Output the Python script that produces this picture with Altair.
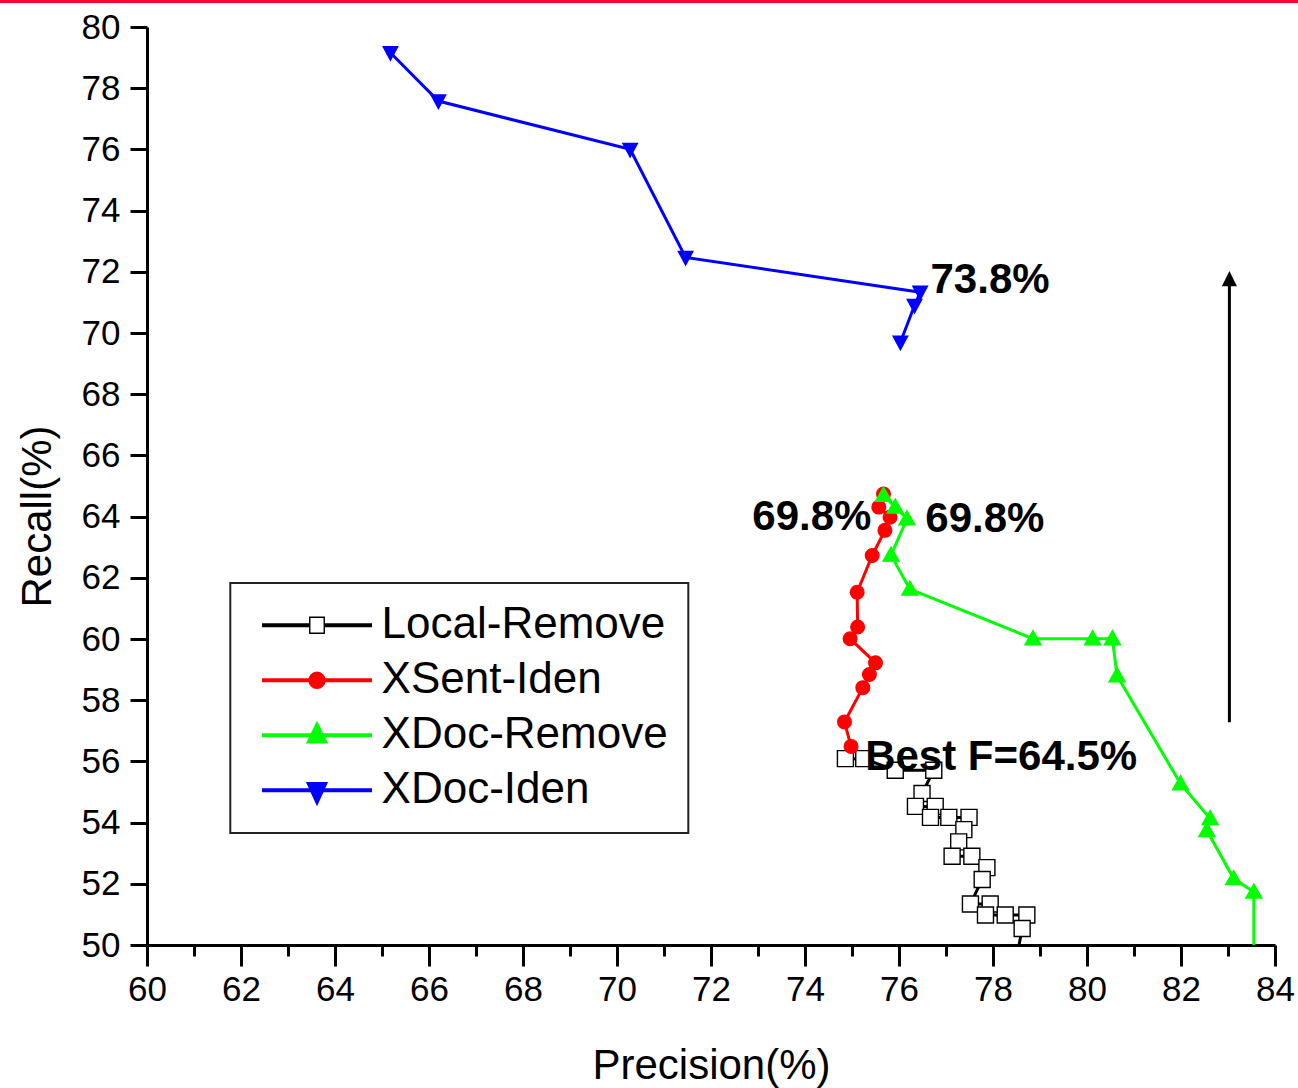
import altair as alt
import pandas as pd

# ---------------- data ----------------
series_names = ["Local-Remove", "XSent-Iden", "XDoc-Remove", "XDoc-Iden"]

local_x = [74.86, 75.25, 75.92, 76.74, 76.49, 76.35, 76.77, 76.67, 77.06, 77.49, 77.38,
           77.27, 77.13, 77.55, 77.87, 77.77, 77.52, 77.94, 77.84, 78.26, 78.72, 78.62, 78.47]
local_y = [56.09, 56.09, 55.71, 55.71, 54.95, 54.53, 54.53, 54.17, 54.17, 54.17, 53.77,
           53.37, 52.90, 52.90, 52.53, 52.14, 51.34, 51.34, 50.98, 50.98, 50.98, 50.54, 49.30]

xsent_x = [75.67, 75.57, 75.81, 75.70, 75.43, 75.11, 75.12, 74.96, 75.50, 75.37, 75.23, 74.84, 74.98]
xsent_y = [64.74, 64.31, 63.98, 63.55, 62.73, 61.53, 60.39, 60.01, 59.22, 58.84, 58.41, 57.29, 56.49]

xdocr_x = [75.67, 75.92, 76.17, 75.83, 76.23, 78.85, 80.12, 80.54, 80.64, 81.99, 82.62,
           82.55, 83.12, 83.55, 83.55]
xdocr_y = [64.70, 64.31, 63.93, 62.74, 61.63, 60.01, 60.01, 60.01, 58.80, 55.27, 54.13,
           53.74, 52.17, 51.73, 48.50]

xdoci_x = [65.18, 66.20, 70.28, 71.46, 76.45, 76.33, 76.03]
xdoci_y = [79.16, 77.58, 76.00, 72.47, 71.33, 70.90, 69.70]

ann_text = ["73.8%", "69.8%", "69.8%", "Best F=64.5%"]
ann_x = [76.67, 72.88, 76.56, 75.28]
ann_y = [71.72, 63.98, 63.93, 56.14]

arrow_x = [83.03]
arrow_y_start = [57.28]
arrow_y_end = [71.60]
arrow_tip_y = [72.03]

x_ticks = list(range(60, 85))
y_ticks = list(range(50, 81))

# ---------------- styles ----------------
line_colors = ["#000000", "#ff0000", "#00ff00", "#0000ff"]
marker_fills = ["#ffffff", "#ff0000", "#00ff00", "#0000ff"]
FONT = "Liberation Sans"

plot_marker_paths = [
    "M-1.6,-1.6H1.6V1.6H-1.6Z",
    "M-1.36,0A1.36,1.36,0,1,0,1.36,0A1.36,1.36,0,1,0,-1.36,0Z",
    "M0,-1.6L1.6,1.2L-1.6,1.2Z",
    "M0,1.5L1.45,-1.2L-1.45,-1.2Z",
]
legend_marker_paths = [
    "M-1.45,-1.6H1.45V1.6H-1.45Z",
    "M-1.6,0A1.6,1.6,0,1,0,1.6,0A1.6,1.6,0,1,0,-1.6,0Z",
    "M0,-2.6L2,1.5L-2,1.5Z",
    "M0,2.86L2,-1.5L-2,-1.5Z",
]
legend_line_path = "M-11,0H11"
arrow_head_path = "M0,0L1.5,3.06L-1.5,3.06Z"

rows = []
for name, xs, ys in zip(series_names,
                        [local_x, xsent_x, xdocr_x, xdoci_x],
                        [local_y, xsent_y, xdocr_y, xdoci_y]):
    for i, (xv, yv) in enumerate(zip(xs, ys)):
        rows.append({"series": name, "idx": i, "precision": xv, "recall": yv})
df = pd.DataFrame(rows)

ann_df = pd.DataFrame({"text": ann_text, "x": ann_x, "y": ann_y})
arrow_df = pd.DataFrame({"x": arrow_x, "y": arrow_y_start, "y2": arrow_y_end, "tip": arrow_tip_y})
legend_df = pd.DataFrame({"series": series_names})

xscale = alt.Scale(domain=[60, 84], nice=False, zero=False)
yscale = alt.Scale(domain=[50, 80], nice=False, zero=False)

x_axis = alt.Axis(
    values=x_ticks,
    labelExpr="datum.value % 2 == 0 ? datum.label : ''",
    tickSize={"condition": {"test": "datum.value % 2 == 0", "value": 21}, "value": 11},
    labelPadding=6,
    labelFlush=False,
    labelAlign="center",
    title="Precision(%)",
    titleX=564, titleY=120, titleBaseline="middle",
)
y_axis = alt.Axis(
    values=y_ticks,
    labelExpr="datum.value % 2 == 0 ? datum.label : ''",
    tickSize={"condition": {"test": "datum.value % 2 == 0", "value": 17}, "value": 9},
    labelPadding=10,
    labelFlush=False,
    title="Recall(%)",
    titleX=-110, titleY=489, titleAngle=270, titleAlign="center", titleBaseline="middle",
)

X = alt.X("precision:Q", scale=xscale, axis=x_axis)
Y = alt.Y("recall:Q", scale=yscale, axis=y_axis)

top_bar = alt.Chart(pd.DataFrame({"a": [0]})).mark_rule(color="#ff0030", strokeWidth=3).encode(
    x=alt.value(-147), x2=alt.value(1151), y=alt.value(-25.5)
)

lines = alt.Chart(df).mark_line(clip=True, strokeWidth=3).encode(
    x=X, y=Y,
    stroke=alt.Stroke("series:N", scale=alt.Scale(domain=series_names, range=line_colors), legend=None),
    order=alt.Order("idx:Q"),
)

points = alt.Chart(df).mark_point(clip=True, filled=True, size=100, strokeWidth=1.4, opacity=1).encode(
    x=X, y=Y,
    shape=alt.Shape("series:N", scale=alt.Scale(domain=series_names, range=plot_marker_paths), legend=None),
    fill=alt.Fill("series:N", scale=alt.Scale(domain=series_names, range=marker_fills), legend=None),
    stroke=alt.Stroke("series:N", scale=alt.Scale(domain=series_names, range=line_colors), legend=None),
)

arrow_line = alt.Chart(arrow_df).mark_rule(color="black", strokeWidth=3).encode(
    x=alt.X("x:Q", scale=xscale), y=alt.Y("y:Q", scale=yscale), y2="y2:Q"
)
arrow_head = alt.Chart(arrow_df).mark_point(filled=True, color="black", size=100, opacity=1,
                                            shape=arrow_head_path).encode(
    x=alt.X("x:Q", scale=xscale), y=alt.Y("tip:Q", scale=yscale)
)

texts = alt.Chart(ann_df).mark_text(font=FONT, fontSize=42, fontWeight="bold", align="left",
                                    baseline="middle", color="black").encode(
    x=alt.X("x:Q", scale=xscale), y=alt.Y("y:Q", scale=yscale), text="text:N"
)

common_legend = dict(
    orient="none", legendX=83.3, legendY=556, title=None,
    padding=20.3, rowPadding=11, symbolOffset=44.4, labelOffset=42.6,
    labelFont=FONT, labelFontSize=44, labelLimit=0, symbolSize=100,
)

legend_lines = alt.Chart(legend_df).transform_filter("false").mark_point(
    filled=False, opacity=1, strokeWidth=4).encode(
    shape=alt.Shape("series:N", scale=alt.Scale(domain=series_names, range=[legend_line_path] * 4),
                    legend=alt.Legend(symbolStrokeWidth=4, strokeColor="#222222", labelColor="black",
                                      **common_legend)),
    stroke=alt.Stroke("series:N", scale=alt.Scale(domain=series_names, range=line_colors),
                      legend=alt.Legend(symbolStrokeWidth=4, strokeColor="#222222", labelColor="black",
                                        **common_legend)),
)

legend_marks = alt.Chart(legend_df).transform_filter("false").mark_point(
    filled=True, opacity=1, strokeWidth=1.4).encode(
    shape=alt.Shape("series:N", scale=alt.Scale(domain=series_names, range=legend_marker_paths),
                    legend=alt.Legend(symbolStrokeWidth=1.4, labelOpacity=0, **common_legend)),
    fill=alt.Fill("series:N", scale=alt.Scale(domain=series_names, range=marker_fills),
                  legend=alt.Legend(symbolStrokeWidth=1.4, labelOpacity=0, **common_legend)),
    stroke=alt.Stroke("series:N", scale=alt.Scale(domain=series_names, range=line_colors),
                      legend=alt.Legend(symbolStrokeWidth=1.4, labelOpacity=0, **common_legend)),
)

chart = alt.layer(
    top_bar, lines, points, arrow_line, arrow_head, texts, legend_lines, legend_marks
).resolve_scale(
    shape="independent", stroke="independent", fill="independent"
).resolve_legend(
    shape="independent", stroke="independent", fill="independent"
).properties(
    width=1128, height=918,
    padding={"left": 147, "top": 27, "right": 23, "bottom": 143},
    autosize="none",
    background="white",
).configure_view(stroke=None).configure_axis(
    grid=False,
    labelFont=FONT, labelFontSize=35, labelColor="black",
    titleFont=FONT, titleFontSize=42, titleFontWeight="normal", titleColor="black",
    domainColor="black", domainWidth=3, tickColor="black", tickWidth=3,
).configure_legend(strokeWidth=2)

chart.save("out.html", embed_options={"renderer": "svg", "actions": False})
